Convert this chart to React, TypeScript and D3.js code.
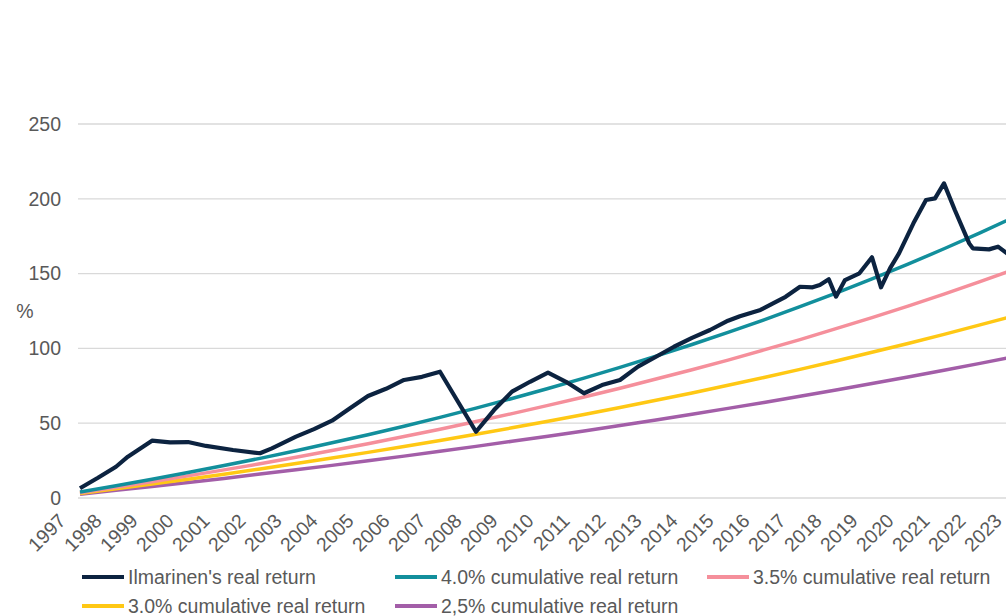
import { useEffect, useRef } from "react";
import * as d3 from "d3";

// Year-end labels on the category axis
const years = d3.range(1997, 2024);

// Ilmarinen's cumulative real return (fractional year, %)
const ilmTime = [
    1997.0, 1997.5, 1998.0, 1998.33, 1999.0, 1999.5, 2000.0, 2000.5, 2001.25, 2002.0,
    2002.33, 2003.0, 2003.5, 2004.0, 2004.5, 2005.0, 2005.5, 2006.0, 2006.5, 2007.0,
    2008.0, 2008.5, 2009.0, 2009.5, 2010.0, 2010.5, 2011.0, 2011.5, 2012.0, 2012.5,
    2013.0, 2013.5, 2014.0, 2014.5, 2015.0, 2015.33, 2015.9, 2016.25, 2016.6, 2017.0,
    2017.35, 2017.55, 2017.8, 2018.0, 2018.25, 2018.65, 2019.0, 2019.25, 2019.5, 2019.75,
    2020.15, 2020.5, 2020.75, 2021.0, 2021.3, 2021.7, 2021.8, 2022.25, 2022.5, 2022.75, 2023.0
];
const ilmValues = [
    6.5, 13.5, 20.9, 27.6, 38.3, 37.2, 37.4, 34.8, 32.1, 29.9,
    33.2, 41.0, 46.0, 51.7, 60.0, 68.2, 73.0, 78.9, 81.0, 84.4,
    44.3, 58.8, 71.1, 77.7, 83.8, 77.7, 70.0, 75.5, 78.9, 87.8,
    94.4, 101.1, 107.0, 112.3, 118.5, 121.5, 125.7, 130.1, 134.5, 141.2,
    140.8, 142.4, 146.2, 134.6, 145.7, 150.2, 160.9, 140.8, 153.5, 163.5,
    183.6, 199.2, 200.3, 210.3, 192.5, 170.2, 166.9, 166.2, 168.0, 163.5, 161.5
];

// Benchmark cumulative real returns at each year end (%)
const bench40 = [4.0, 8.2, 12.5, 17.0, 21.7, 26.5, 31.6, 36.9, 42.3, 48.0, 53.9, 60.1, 66.5, 73.2,
    80.1, 87.3, 94.8, 102.6, 110.7, 119.1, 127.9, 137.0, 146.5, 156.3, 166.6, 177.2, 188.3];
const bench35 = [3.5, 7.1, 10.9, 14.8, 18.8, 22.9, 27.2, 31.7, 36.3, 41.1, 46.0, 51.1, 56.4, 61.9,
    67.5, 73.4, 79.5, 85.7, 92.2, 99.0, 105.9, 113.2, 120.6, 128.3, 136.3, 144.6, 153.2];
const bench30 = [3.0, 6.1, 9.3, 12.6, 15.9, 19.4, 23.0, 26.7, 30.5, 34.4, 38.4, 42.6, 46.9, 51.3,
    55.8, 60.5, 65.3, 70.2, 75.4, 80.6, 86.0, 91.6, 97.4, 103.3, 109.4, 115.7, 122.1];
const bench25 = [2.5, 5.1, 7.7, 10.4, 13.1, 16.0, 18.9, 21.8, 24.9, 28.0, 31.2, 34.5, 37.9, 41.3,
    44.8, 48.4, 52.2, 56.0, 59.9, 63.9, 68.0, 72.2, 76.5, 80.9, 85.4, 90.0, 94.8];

const yTicks = [0, 50, 100, 150, 200, 250];

interface Series {
    name: string;
    color: string;
    width: number;
    points: [number, number][];
}

const series: Series[] = [
    { name: "2,5% cumulative real return", color: "#a35ea8", width: 3.5, points: years.map((y, i) => [y, bench25[i]]) },
    { name: "3.0% cumulative real return", color: "#ffc814", width: 3.5, points: years.map((y, i) => [y, bench30[i]]) },
    { name: "3.5% cumulative real return", color: "#f58f9b", width: 3.5, points: years.map((y, i) => [y, bench35[i]]) },
    { name: "4.0% cumulative real return", color: "#128f9c", width: 3.5, points: years.map((y, i) => [y, bench40[i]]) },
    { name: "Ilmarinen's real return", color: "#0c2340", width: 4.2, points: ilmTime.map((t, i) => [t, ilmValues[i]]) },
];

// legend order as in the reference
const legendOrder = [4, 3, 2, 1, 0];

export default function App(): JSX.Element {
    const svgRef = useRef<SVGSVGElement>(null);
    const width = 1006;
    const height = 616;

    useEffect(() => {
        const svg = d3.select(svgRef.current);
        svg.selectAll("*").remove();

        const font = "'Liberation Sans', Arial, sans-serif";
        const fontSize = 19.5;
        const textColor = "#595959";

        const x = d3.scaleLinear().domain([1997, 2023]).range([80, 1016]);
        const y = d3.scaleLinear().domain([0, 250]).range([498, 124]);

        // Gridlines
        svg.append("g")
            .selectAll("line")
            .data(yTicks)
            .enter().append("line")
            .attr("x1", 78)
            .attr("x2", 1040)
            .attr("y1", d => y(d))
            .attr("y2", d => y(d))
            .attr("stroke", "#d9d9d9")
            .attr("stroke-width", 1.3);

        // Y labels
        svg.append("g")
            .selectAll("text")
            .data(yTicks)
            .enter().append("text")
            .attr("x", 61)
            .attr("y", d => y(d))
            .attr("dy", "0.35em")
            .attr("text-anchor", "end")
            .attr("font-family", font)
            .attr("font-size", fontSize)
            .attr("fill", textColor)
            .text(d => d);

        svg.append("text")
            .attr("x", 25)
            .attr("y", 311)
            .attr("dy", "0.35em")
            .attr("text-anchor", "middle")
            .attr("font-family", font)
            .attr("font-size", fontSize)
            .attr("fill", textColor)
            .text("%");

        // X labels, rotated
        svg.append("g")
            .selectAll("text")
            .data(years)
            .enter().append("text")
            .attr("transform", d => `translate(${x(d) - 13},522) rotate(-45)`)
            .attr("text-anchor", "end")
            .attr("font-family", font)
            .attr("font-size", fontSize)
            .attr("fill", textColor)
            .text(d => d);

        // Lines
        const line = d3.line<[number, number]>()
            .x(d => x(d[0]))
            .y(d => y(d[1]));

        svg.append("g")
            .selectAll("path")
            .data(series)
            .enter().append("path")
            .attr("d", d => line(d.points))
            .attr("fill", "none")
            .attr("stroke", d => d.color)
            .attr("stroke-width", d => d.width)
            .attr("stroke-linejoin", "round");

        // Legend
        const legendPos = [
            [82, 577], [395, 577], [707, 577],
            [82, 606], [395, 606],
        ];
        const legend = svg.append("g")
            .selectAll("g")
            .data(legendOrder.map(i => series[i]))
            .enter().append("g")
            .attr("transform", (d, i) => `translate(${legendPos[i][0]},${legendPos[i][1]})`);

        legend.append("line")
            .attr("x1", 0)
            .attr("x2", 42)
            .attr("stroke", d => d.color)
            .attr("stroke-width", 4);

        legend.append("text")
            .attr("x", 46)
            .attr("dy", "0.35em")
            .attr("font-family", font)
            .attr("font-size", fontSize)
            .attr("fill", textColor)
            .text(d => d.name);
    }, []);

    return (
        <svg
            ref={svgRef}
            width={width}
            height={height}
            style={{ position: "absolute", left: 0, top: 0, background: "#ffffff" }}
        />
    );
}
